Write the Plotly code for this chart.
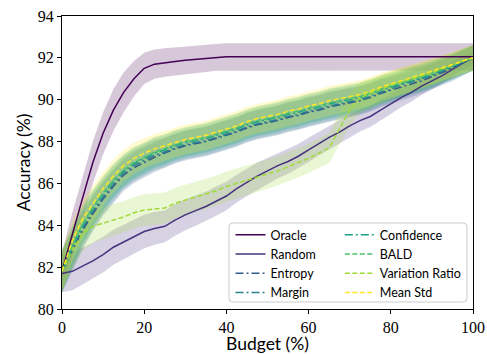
import plotly.graph_objects as go

budget = [0, 2.5, 5, 7.5, 10, 12.5, 15, 17.5, 20, 22.5, 25, 27.5, 30, 32.5, 35, 37.5, 40,
          42.5, 45, 47.5, 50, 52.5, 55, 57.5, 60, 62.5, 65, 67.5, 70, 72.5, 75, 77.5, 80,
          82.5, 85, 87.5, 90, 92.5, 95, 97.5, 100]

oracle = [81.8, 83.6, 85.3, 87.0, 88.4, 89.5, 90.35, 91.0, 91.5, 91.7, 91.78, 91.83, 91.88,
          91.93, 91.98, 92.03, 92.05, 92.05, 92.05, 92.05, 92.05, 92.05, 92.05, 92.05, 92.05,
          92.05, 92.05, 92.05, 92.05, 92.05, 92.05, 92.05, 92.05, 92.05, 92.05, 92.05, 92.05,
          92.05, 92.05, 92.05, 92.05]
random_ = [81.7, 81.8, 82.05, 82.3, 82.6, 82.95, 83.2, 83.45, 83.7, 83.85, 83.95, 84.25, 84.5,
           84.7, 84.9, 85.15, 85.4, 85.75, 86.05, 86.35, 86.6, 86.85, 87.05, 87.3, 87.6, 87.9,
           88.2, 88.45, 88.75, 89.0, 89.2, 89.5, 89.8, 90.1, 90.35, 90.65, 90.9, 91.15, 91.45,
           91.75, 92.0]
entropy = [81.8, 82.75, 83.75, 84.55, 85.25, 85.85, 86.4, 86.75, 87.0, 87.25, 87.45, 87.65, 87.8,
           87.9, 88.0, 88.15, 88.3, 88.45, 88.65, 88.8, 88.9, 89.0, 89.15, 89.25, 89.4, 89.5,
           89.65, 89.75, 89.85, 89.95, 90.1, 90.3, 90.45, 90.6, 90.75, 90.9, 91.1, 91.3, 91.5,
           91.75, 92.0]
margin = [81.8, 82.85, 83.85, 84.65, 85.35, 85.95, 86.5, 86.85, 87.1, 87.35, 87.5, 87.7, 87.85,
          87.95, 88.05, 88.2, 88.35, 88.5, 88.7, 88.85, 88.95, 89.05, 89.2, 89.3, 89.45, 89.55,
          89.7, 89.8, 89.9, 90.0, 90.15, 90.35, 90.5, 90.7, 90.85, 91.0, 91.15, 91.35, 91.55,
          91.78, 92.0]
confidence = [81.8, 83.0, 84.0, 84.8, 85.5, 86.1, 86.6, 86.95, 87.2, 87.45, 87.6, 87.8, 87.95,
              88.05, 88.15, 88.3, 88.45, 88.6, 88.8, 88.95, 89.05, 89.15, 89.3, 89.4, 89.55,
              89.65, 89.8, 89.9, 90.0, 90.1, 90.25, 90.45, 90.6, 90.75, 90.9, 91.05, 91.2,
              91.4, 91.6, 91.8, 92.0]
bald = [81.8, 83.05, 84.05, 84.85, 85.55, 86.15, 86.65, 87.0, 87.25, 87.5, 87.65, 87.85, 88.0,
        88.1, 88.2, 88.35, 88.5, 88.65, 88.85, 89.0, 89.1, 89.2, 89.35, 89.45, 89.6, 89.7,
        89.85, 89.95, 90.05, 90.15, 90.3, 90.5, 90.65, 90.8, 90.95, 91.1, 91.25, 91.45, 91.62,
        91.82, 92.0]
variation_ratio = [81.8, 82.8, 83.6, 83.95, 84.1, 84.25, 84.4, 84.6, 84.73, 84.78, 84.82, 85.05,
                   85.2, 85.35, 85.5, 85.65, 85.85, 86.0, 86.15, 86.3, 86.45, 86.6, 86.8, 87.0,
                   87.2, 87.45, 87.7, 88.6, 89.5, 90.1, 90.3, 90.5, 90.7, 90.85, 91.0, 91.15,
                   91.3, 91.5, 91.65, 91.85, 92.0]
mean_std = [81.8, 83.25, 84.3, 85.05, 85.75, 86.35, 86.85, 87.2, 87.45, 87.65, 87.8, 87.95,
            88.1, 88.2, 88.3, 88.45, 88.6, 88.75, 88.95, 89.1, 89.2, 89.3, 89.45, 89.55, 89.7,
            89.8, 89.95, 90.05, 90.15, 90.25, 90.4, 90.6, 90.75, 90.9, 91.05, 91.2, 91.35, 91.5,
            91.68, 91.85, 92.0]

oracle_std = [0.9, 1.0, 1.0, 1.0, 1.0, 1.0, 0.95, 0.85, 0.75, 0.7, 0.68, 0.66, 0.65, 0.65, 0.65,
              0.65, 0.65, 0.65, 0.65, 0.65, 0.65, 0.65, 0.65, 0.65, 0.65, 0.65, 0.65, 0.65, 0.65,
              0.65, 0.65, 0.65, 0.65, 0.65, 0.65, 0.65, 0.65, 0.65, 0.65, 0.65, 0.65]
random_std = [0.9, 0.9, 0.88, 0.86, 0.85, 0.84, 0.82, 0.8, 0.8, 0.78, 0.76, 0.75, 0.74, 0.72,
              0.7, 0.7, 0.68, 0.66, 0.65, 0.64, 0.62, 0.6, 0.6, 0.58, 0.58, 0.56, 0.55, 0.55,
              0.55, 0.52, 0.5, 0.5, 0.48, 0.46, 0.44, 0.42, 0.4, 0.38, 0.36, 0.33, 0.3]
vr_std = [0.9, 0.9, 0.85, 0.8, 0.78, 0.76, 0.75, 0.75, 0.75, 0.75, 0.75, 0.74, 0.74, 0.73, 0.72,
          0.72, 0.72, 0.71, 0.7, 0.7, 0.7, 0.7, 0.7, 0.7, 0.7, 0.7, 0.72, 0.75, 0.75, 0.72, 0.7,
          0.68, 0.66, 0.65, 0.64, 0.62, 0.62, 0.6, 0.6, 0.6, 0.6]
cluster_std = [1.0, 0.95, 0.9, 0.85, 0.8, 0.78, 0.76, 0.74, 0.72, 0.72, 0.71, 0.7, 0.7, 0.7,
               0.7, 0.7, 0.7, 0.7, 0.7, 0.7, 0.7, 0.7, 0.7, 0.7, 0.7, 0.7, 0.7, 0.7, 0.68,
               0.68, 0.67, 0.66, 0.65, 0.64, 0.63, 0.62, 0.62, 0.61, 0.6, 0.6, 0.6]

series = [
    ("Oracle", oracle, oracle_std, (68, 1, 84), "solid"),
    ("Random", random_, random_std, (70, 50, 126), "solid"),
    ("Entropy", entropy, cluster_std, (54, 92, 141), "8px,3px,2px,3px"),
    ("Margin", margin, cluster_std, (39, 127, 142), "8px,3px,2px,3px"),
    ("Confidence", confidence, cluster_std, (31, 161, 135), "8px,3px,2px,3px"),
    ("BALD", bald, cluster_std, (74, 193, 109), "5px,2.5px"),
    ("Variation Ratio", variation_ratio, vr_std, (160, 218, 57), "5px,2.5px"),
    ("Mean Std", mean_std, cluster_std, (253, 231, 37), "5px,2.5px"),
]

fig = go.Figure()
for name, vals, std, c, dash in series:
    upper = [v + s for v, s in zip(vals, std)]
    lower = [v - s for v, s in zip(vals, std)]
    fig.add_trace(go.Scatter(
        x=budget + budget[::-1], y=upper + lower[::-1], fill="toself",
        fillcolor="rgba(%d,%d,%d,0.22)" % c, line=dict(width=0), mode="lines",
        showlegend=False, hoverinfo="skip"))
for i, (name, vals, std, c, dash) in enumerate(series):
    fig.add_trace(go.Scatter(
        x=budget, y=vals, mode="lines", name=name,
        line=dict(color="rgb(%d,%d,%d)" % c, width=1.5, dash=dash),
        legend="legend" if i < 4 else "legend2"))

sans = "Lato"
serif = "Liberation Serif"
axis_common = dict(showline=True, linecolor="black", linewidth=1, mirror=True,
                   ticks="outside", ticklen=4, tickcolor="black", showgrid=False,
                   zeroline=False, automargin=False,
                   tickfont=dict(family=serif, size=16, color="black"))
legend_common = dict(xanchor="left", yanchor="top", bgcolor="rgba(0,0,0,0)",
                     font=dict(family=sans, size=12.5, color="black"), tracegroupgap=0,
                     itemwidth=30)

# rounded legend frame (paper coordinates)
x0, x1, y0, y1 = 0.4063, 0.9854, 0.0239, 0.2935
rx, ry = 0.009, 0.0125
frame = ("M %f,%f L %f,%f Q %f,%f %f,%f L %f,%f Q %f,%f %f,%f L %f,%f Q %f,%f %f,%f "
         "L %f,%f Q %f,%f %f,%f Z") % (
    x0 + rx, y0, x1 - rx, y0, x1, y0, x1, y0 + ry, x1, y1 - ry, x1, y1, x1 - rx, y1,
    x0 + rx, y1, x0, y1, x0, y1 - ry, x0, y0 + ry, x0, y0, x0 + rx, y0)

fig.update_layout(
    width=487, height=354, plot_bgcolor="white", paper_bgcolor="white",
    margin=dict(l=62, r=14, t=16, b=45),
    xaxis=dict(range=[0, 100], tickvals=[0, 20, 40, 60, 80, 100],
               title=dict(text="Budget (%)", font=dict(family=sans, size=17.5, color="black"),
                          standoff=2),
               **axis_common),
    yaxis=dict(range=[80, 94], tickvals=[80, 82, 84, 86, 88, 90, 92, 94],
               title=dict(text="Accuracy (%)", font=dict(family=sans, size=17.5, color="black"),
                          standoff=2),
               **axis_common),
    legend=dict(x=0.41, y=0.303, **legend_common),
    legend2=dict(x=0.676, y=0.303, **legend_common),
    shapes=[dict(type="path", xref="paper", yref="paper", path=frame,
                 line=dict(color="#cccccc", width=1),
                 fillcolor="rgba(255,255,255,0.8)", layer="above")],
)
fig.write_html("out.html", config={"displayModeBar": False},
               post_script="document.body.style.margin='0';")
